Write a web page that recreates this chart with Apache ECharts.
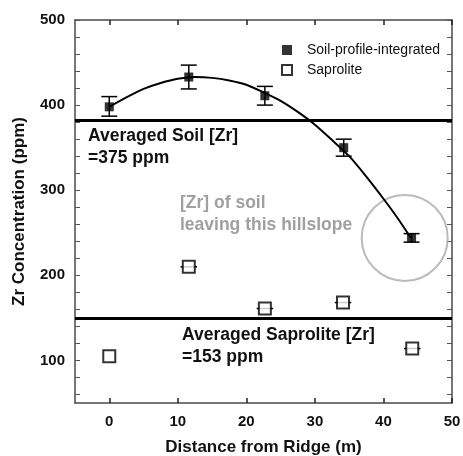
<!DOCTYPE html>
<html>
<head>
<meta charset="utf-8">
<script src="https://cdn.jsdelivr.net/npm/echarts@6/dist/echarts.min.js"></script>
<style>
  html, body { margin: 0; padding: 0; background: #fff; }
  #chart { width: 463px; height: 456px; }
</style>
</head>
<body>
<div id="chart"></div>
<script>
// soil-profile-integrated points with vertical error bars
const soilX = [0, 11.6, 22.7, 34.2, 44.1]
const soilY = [398, 433, 411, 350, 244]
const soilLo = [387, 419, 400, 340, 239]
const soilHi = [410, 447, 422, 360, 249]

// saprolite points with small horizontal error bars
const sapX = [0, 11.6, 22.7, 34.1, 44.2]
const sapY = [105, 210, 161, 168, 114]
const sapXErr = [0, 1.2, 1.2, 1.2, 1.2]

// fitted curve
const fitX = [0, 2.5, 5, 7.5, 10, 12.5, 15, 17.5, 20, 22.5, 25, 27.5, 30, 32.5, 35, 37.5, 40, 42, 44]
const fitY = [398, 409, 419, 426, 431, 433, 432, 429, 424, 415, 405, 392, 377, 359, 340, 316, 290, 268, 244]

// averaged levels (drawn lines)
const soilAvgLevel = 382
const sapAvgLevel = 150

// highlighted point ("[Zr] of soil leaving this hillslope")
const circleAt = [43.1, 244]

const xTicks = [0, 10, 20, 30, 40, 50]
const yLabels = [100, 200, 300, 400, 500]
const yTicks = [60, 80, 100, 120, 140, 160, 180, 200, 220, 240, 260, 280, 300, 320, 340, 360, 380, 400, 420, 440, 460, 480, 500]

const frameColor = '#4a4a4a'
const font = 'Liberation Sans, Arial, sans-serif'

const chart = echarts.init(document.getElementById('chart'))

const errBarItem = (params, api) => {
  const x = api.value(0)
  const p1 = api.coord([x, api.value(1)])
  const p2 = api.coord([x, api.value(2)])
  const w = 8
  const style = { stroke: '#000', lineWidth: 1.5 }
  return {
    type: 'group',
    children: [
      { type: 'line', shape: { x1: p1[0], y1: p1[1], x2: p2[0], y2: p2[1] }, style },
      { type: 'line', shape: { x1: p1[0] - w, y1: p1[1], x2: p1[0] + w, y2: p1[1] }, style },
      { type: 'line', shape: { x1: p2[0] - w, y1: p2[1], x2: p2[0] + w, y2: p2[1] }, style }
    ]
  }
}

const xErrItem = (params, api) => {
  const x = api.value(0)
  const y = api.value(1)
  const e = api.value(2)
  if (!e) return null
  const p1 = api.coord([x - e, y])
  const p2 = api.coord([x + e, y])
  return {
    type: 'line',
    shape: { x1: p1[0], y1: p1[1], x2: p2[0], y2: p2[1] },
    style: { stroke: '#000', lineWidth: 1.5 }
  }
}

const option = {
  animation: false,
  backgroundColor: '#fff',
  textStyle: { fontFamily: font },
  grid: { left: 75, right: 11, top: 20, bottom: 53, outerBoundsMode: 'none' },
  legend: {
    orient: 'vertical',
    left: 276,
    top: 38,
    itemWidth: 10,
    itemHeight: 10,
    itemGap: 6,
    textStyle: { fontSize: 14, color: '#111', fontFamily: font, padding: [0, 0, 0, 10] },
    data: [
      { name: 'Soil-profile-integrated', icon: 'rect' },
      { name: 'Saprolite', icon: 'rect' }
    ]
  },
  xAxis: [
    {
      type: 'value',
      min: -5,
      max: 50,
      position: 'bottom',
      name: 'Distance from Ridge (m)',
      nameLocation: 'middle',
      nameGap: 36,
      nameTextStyle: { fontSize: 17, fontWeight: 'bold', color: '#111' },
      splitLine: { show: false },
      axisLine: { show: true, lineStyle: { color: frameColor, width: 1.5 } },
      axisTick: { show: true, inside: true, length: 5, customValues: xTicks, lineStyle: { color: '#222', width: 1.5 } },
      axisLabel: { customValues: xTicks, fontSize: 15, fontWeight: 'bold', color: '#111', margin: 11 }
    },
    {
      type: 'value',
      min: -5,
      max: 50,
      position: 'top',
      splitLine: { show: false },
      axisLine: { show: true, onZero: false, lineStyle: { color: frameColor, width: 1.5 } },
      axisTick: { show: true, inside: true, length: 5, customValues: xTicks, lineStyle: { color: '#222', width: 1.5 } },
      axisLabel: { show: false }
    }
  ],
  yAxis: [
    {
      type: 'value',
      min: 50,
      max: 500,
      position: 'left',
      name: 'Zr Concentration (ppm)',
      nameLocation: 'middle',
      nameGap: 47,
      nameTextStyle: { fontSize: 17, fontWeight: 'bold', color: '#111' },
      splitLine: { show: false },
      axisLine: { show: true, onZero: false, lineStyle: { color: frameColor, width: 1.5 } },
      axisTick: { show: true, inside: true, length: 5, customValues: yTicks, lineStyle: { color: '#555', width: 1 } },
      axisLabel: { customValues: yLabels, fontSize: 15, fontWeight: 'bold', color: '#111', margin: 10 }
    },
    {
      type: 'value',
      min: 50,
      max: 500,
      position: 'right',
      splitLine: { show: false },
      axisLine: { show: true, onZero: false, lineStyle: { color: frameColor, width: 1.5 } },
      axisTick: { show: true, inside: true, length: 5, customValues: yTicks, lineStyle: { color: '#555', width: 1 } },
      axisLabel: { show: false }
    }
  ],
  series: [
    {
      name: 'fit',
      type: 'line',
      smooth: 0.2,
      showSymbol: false,
      silent: true,
      data: fitX.map((x, i) => [x, fitY[i]]),
      lineStyle: { color: '#000', width: 2 },
      z: 3,
      markLine: {
        silent: true,
        symbol: 'none',
        label: { show: false },
        lineStyle: { color: '#000', width: 3, type: 'solid' },
        data: [{ yAxis: soilAvgLevel }, { yAxis: sapAvgLevel }]
      }
    },
    {
      name: 'soil error',
      type: 'custom',
      renderItem: errBarItem,
      data: soilX.map((x, i) => [x, soilLo[i], soilHi[i]]),
      silent: true,
      z: 4
    },
    {
      name: 'saprolite error',
      type: 'custom',
      renderItem: xErrItem,
      data: sapX.map((x, i) => [x, sapY[i], sapXErr[i]]),
      silent: true,
      z: 4
    },
    {
      name: 'Soil-profile-integrated',
      type: 'scatter',
      symbol: 'rect',
      symbolSize: 9,
      data: soilX.map((x, i) => [x, soilY[i]]),
      itemStyle: { color: '#000' },
      z: 6
    },
    {
      name: 'Saprolite',
      type: 'scatter',
      symbol: 'rect',
      symbolSize: 12,
      data: sapX.map((x, i) => [x, sapY[i]]),
      itemStyle: { color: '#fff', borderColor: '#000', borderWidth: 2 },
      z: 6
    },
    {
      name: 'highlight',
      type: 'scatter',
      symbol: 'circle',
      symbolSize: 86,
      silent: true,
      data: [circleAt],
      itemStyle: { color: 'rgba(0,0,0,0)', borderColor: '#aaa', borderWidth: 2 },
      z: 2
    }
  ],
  graphic: [
    { type: 'text', left: 88, top: 127, style: { text: 'Averaged Soil [Zr]', font: 'bold 17.5px ' + font, fill: '#111' } },
    { type: 'text', left: 88, top: 149, style: { text: '=375 ppm', font: 'bold 17.5px ' + font, fill: '#111' } },
    { type: 'text', left: 180, top: 194, style: { text: '[Zr] of soil', font: 'bold 17.5px ' + font, fill: '#a0a0a0' } },
    { type: 'text', left: 180, top: 216, style: { text: 'leaving this hillslope', font: 'bold 17.5px ' + font, fill: '#a0a0a0' } },
    { type: 'text', left: 182, top: 326, style: { text: 'Averaged Saprolite [Zr]', font: 'bold 17.5px ' + font, fill: '#111' } },
    { type: 'text', left: 182, top: 348, style: { text: '=153 ppm', font: 'bold 17.5px ' + font, fill: '#111' } }
  ]
}

chart.setOption(option)
</script>
</body>
</html>
